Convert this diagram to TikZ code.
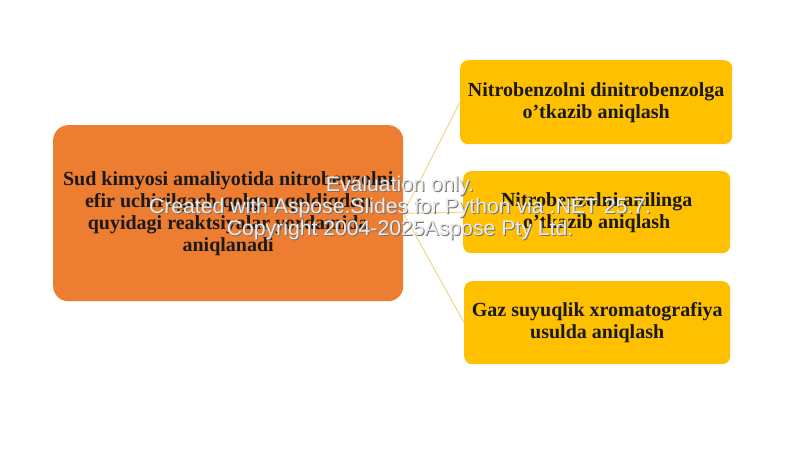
\documentclass[tikz,border=0pt]{standalone}
\usepackage{fontspec}
\setmainfont{Liberation Serif}
\newfontfamily\wmfont{Liberation Sans}
\definecolor{orangebox}{HTML}{ED7D31}
\definecolor{yellowbox}{HTML}{FFC000}
\definecolor{linkcol}{HTML}{F2D27C}
\definecolor{txtcol}{HTML}{1A1A1A}
\begin{document}
\begin{tikzpicture}[x=1pt,y=-1pt,
  boxtext/.style={font=\bfseries\fontsize{20}{22}\selectfont, text=txtcol, align=center, inner sep=0pt},
  parentbox/.style={fill=orangebox, rounded corners=15pt, draw=none},
  childbox/.style={fill=yellowbox, rounded corners=8pt, draw=none},
  link/.style={draw=linkcol, line width=0.9pt},
  wm/.style={font=\wmfont\fontsize{21.2}{22}\selectfont, align=center, inner sep=0pt}]
\useasboundingbox (0,0) rectangle (800,450);
\fill[white] (0,0) rectangle (800,450);
% boxes
\node[parentbox, minimum width=350pt, minimum height=176pt, anchor=north west] (p) at (53,125) {};
\node[childbox, minimum width=272pt, minimum height=84pt, anchor=north west] (c1) at (460,60) {};
\node[childbox, minimum width=267pt, minimum height=82pt, anchor=north west] (c2) at (463,171) {};
\node[childbox, minimum width=266pt, minimum height=83pt, anchor=north west] (c3) at (464,281) {};
% connectors
\draw[link] (p.east) -- (c1.west);
\draw[link] (p.east) -- (c2.west);
\draw[link] (p.east) -- (c3.west);
% texts
\node[boxtext] (pt) at (p.center) {Sud kimyosi amaliyotida nitrobenzolni\\efir uchirilgach qolgan qoldiqdan\\quyidagi reaktsiyalar yordamida\\aniqlanadi};
\node[boxtext] (t1) at (c1.center) {Nitrobenzolni dinitrobenzolga\\o’tkazib aniqlash};
\node[boxtext] (t2) at (c2.center) {Nitrobenzolni anilinga\\o’tkazib aniqlash};
\node[boxtext] (t3) at (c3.center) {Gaz suyuqlik xromatografiya\\usulda aniqlash};
% watermark
\node[wm, text=black!55] (wms) at (401,209) {Evaluation only.\\Created with Aspose.Slides for Python via .NET 25.7.\\Copyright 2004-2025Aspose Pty Ltd.};
\node[wm, text=white!92!black] (wm) at (400,208) {Evaluation only.\\Created with Aspose.Slides for Python via .NET 25.7.\\Copyright 2004-2025Aspose Pty Ltd.};
\end{tikzpicture}
\end{document}
